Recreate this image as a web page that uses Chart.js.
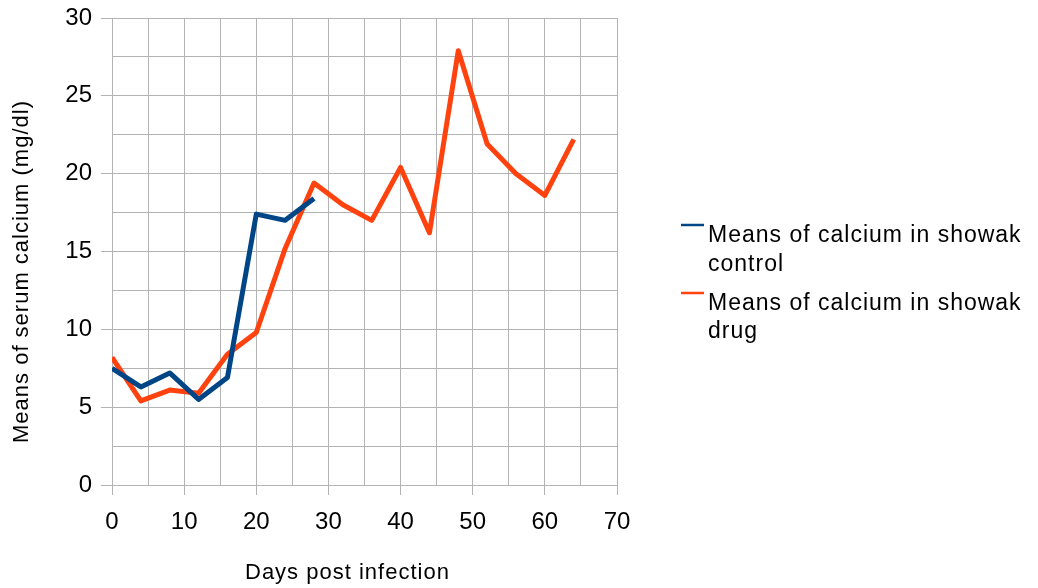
<!DOCTYPE html>
<html><head><meta charset="utf-8">
<script src="https://cdn.jsdelivr.net/npm/chart.js@4.4.0/dist/chart.umd.min.js"></script>
<style>html,body{margin:0;padding:0;background:#fff;overflow:hidden}#wrap{width:1038px;height:588px;position:relative}</style>
</head><body><div id="wrap"><canvas id="c" width="1038" height="588"></canvas></div>
<script>
const days = [0,4,8,12,16,20,24,28,32,36,40,44,48,52,56,60,64];
const controlValues = [7.5,6.3,7.2,5.5,6.9,17.4,17.0,18.4];
const drugValues = [8.2,5.4,6.1,5.9,8.4,9.8,15.2,19.4,18.0,17.0,20.4,16.2,27.9,21.9,20.0,18.6,22.2];
const seriesNames = ["Means of calcium in showak control","Means of calcium in showak drug"];
const legendLines = [["Means of calcium in showak","control"],["Means of calcium in showak","drug"]];
const seriesColors = ["#004586","#ff420e"];
const xTitle = "Days post infection";
const yTitle = "Means of serum calcium (mg/dl)";
const xMin = 0, xMax = 70, xStep = 5, xLabelEvery = 10;
const yMin = 0, yMax = 30, yStep = 2.5, yLabelEvery = 5;

const FONT = "'Liberation Sans', Arial, sans-serif";
const GRID = "#b3b3b3";

const textPlugin = {
  id: 'texts',
  afterDraw(chart) {
    const ctx = chart.ctx;
    ctx.save();
    ctx.fillStyle = '#000';
    try { ctx.letterSpacing = '1px'; } catch(e) {}
    ctx.font = '22px ' + FONT;
    ctx.textBaseline = 'alphabetic';
    ctx.textAlign = 'left';
    ctx.fillText(xTitle, 245, 579);
    ctx.save();
    ctx.translate(28, 443);
    ctx.rotate(-Math.PI/2);
    ctx.textAlign = 'left';
    ctx.fillText(yTitle, 0, 0);
    ctx.restore();
    ctx.font = '23px ' + FONT;
    const entries = [
      {lineY: 225, baselines: [241.5, 270.5]},
      {lineY: 293, baselines: [309.5, 338]}
    ];
    entries.forEach((e, i) => {
      ctx.strokeStyle = seriesColors[i];
      ctx.lineWidth = 2.5;
      ctx.beginPath();
      ctx.moveTo(681, e.lineY);
      ctx.lineTo(704, e.lineY);
      ctx.stroke();
      legendLines[i].forEach((t, j) => ctx.fillText(t, 708, e.baselines[j]));
    });
    ctx.restore();
  }
};

new Chart(document.getElementById('c'), {
  type: 'line',
  data: {
    datasets: [
      {label: seriesNames[0], data: controlValues.map((v,i)=>({x: days[i], y: v})),
       borderColor: seriesColors[0], backgroundColor: seriesColors[0], borderWidth: 5,
       pointRadius: 0, tension: 0, borderJoinStyle: 'round', fill: false},
      {label: seriesNames[1], data: drugValues.map((v,i)=>({x: days[i], y: v})),
       borderColor: seriesColors[1], backgroundColor: seriesColors[1], borderWidth: 5,
       pointRadius: 0, tension: 0, borderJoinStyle: 'round', fill: false}
    ]
  },
  options: {
    responsive: false,
    animation: false,
    devicePixelRatio: 1,
    layout: {padding: {left: 0, top: 18, right: 421, bottom: 0}},
    plugins: {legend: {display: false}, tooltip: {enabled: false}, title: {display: false}},
    scales: {
      x: {
        type: 'linear', min: xMin, max: xMax,
        afterFit(s) { s.height = 103; s.paddingLeft = 0; s.paddingRight = 0; },
        ticks: {stepSize: xStep, autoSkip: false, maxRotation: 0, color: '#000', padding: 13,
          font: {family: FONT, size: 24},
          callback: v => (v % xLabelEvery === 0 ? String(v) : '')},
        grid: {color: GRID, lineWidth: 1, tickLength: 10,
          tickColor: c => (c.tick && c.tick.value % xLabelEvery === 0 ? GRID : 'rgba(0,0,0,0)')},
        border: {color: GRID, width: 1}
      },
      y: {
        type: 'linear', min: yMin, max: yMax,
        afterFit(s) { s.width = 112; s.paddingTop = 0; s.paddingBottom = 0; },
        ticks: {stepSize: yStep, autoSkip: false, color: '#000', padding: 9,
          font: {family: FONT, size: 24},
          callback: v => (v % yLabelEvery === 0 ? String(v) : '')},
        grid: {color: GRID, lineWidth: 1, tickLength: 11,
          tickColor: c => (c.tick && c.tick.value % yLabelEvery === 0 ? GRID : 'rgba(0,0,0,0)')},
        border: {color: GRID, width: 1}
      }
    }
  },
  plugins: [textPlugin]
});
</script></body></html>
